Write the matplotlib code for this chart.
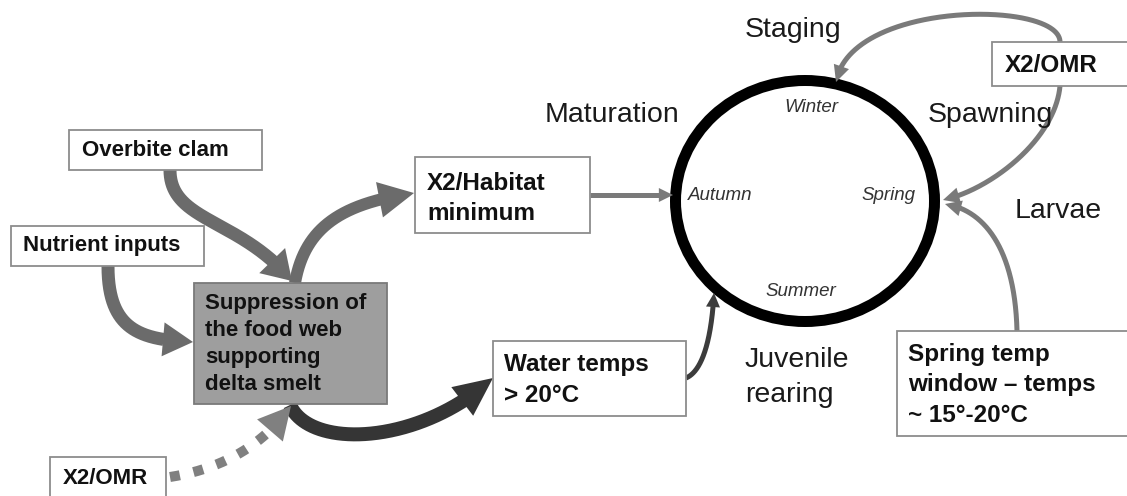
import numpy as np
from math import comb
import matplotlib
matplotlib.use("Agg")
import matplotlib.pyplot as plt
from matplotlib.patches import Rectangle, Ellipse, Polygon

W, H = 1127, 496

# ---- boxes ----
box_labels = [["Overbite clam"], ["Nutrient inputs"], ["X2/Habitat", "minimum"],
              ["Suppression of", "the food web", "supporting", "delta smelt"],
              ["Water temps", "> 20°C"], ["Spring temp", "window – temps", "~ 15°-20°C"],
              ["X2/OMR"], ["X2/OMR"]]
box_x0 = [69, 11, 415, 194, 493, 897, 992, 50]
box_y0 = [130, 226, 157, 283, 341, 331, 42, 457]
box_x1 = [262, 204, 590, 387, 686, 1130, 1130, 166]
box_y1 = [170, 266, 233, 404, 416, 436, 86, 500]
box_fill = ["white", "white", "white", "#9e9e9e", "white", "white", "white", "white"]
text_x = [82, 23, 427, 205, 504, 908, 1005, 63]
text_y = [150, 246, 183, 303, 364, 355, 65, 478]
line_gap = [0, 0, 30, 27, 32, 30, 0, 0]
font_size = [16, 16, 17.5, 16, 17.5, 17.5, 17.5, 16]

# ---- life-cycle stage labels ----
stage_labels = ["Staging", "Maturation", "Spawning", "Larvae", "Juvenile", "rearing"]
stage_x = [745, 545, 928, 1015, 745, 745]
stage_y = [30, 115, 115, 211, 360, 395]

# ---- seasons on the ring ----
season_labels = ["Winter", "Autumn", "Spring", "Summer"]
season_x = [811, 720, 888, 801]
season_y = [108, 195, 195, 291]

# ---- ring ----
ring_center = (805, 201)
ring_size = (259, 241)

# ---- arrows: bezier control points ending at the tip ----
arrow_pts = [
    [(170, 170), (170, 222), (240, 218), (292, 281)],     # overbite -> suppression
    [(108, 266), (108, 330), (140, 340), (193, 342)],     # nutrients -> suppression
    [(295, 283), (305, 225), (345, 203), (414, 193)],     # suppression -> X2/Habitat
    [(590, 195), (630, 195), (673, 195)],                 # X2/Habitat -> autumn
    [(290, 405), (310, 450), (420, 445), (493, 378)],     # suppression -> water temps
    [(170, 477), (215, 470), (260, 450), (291, 406)],     # X2/OMR (dotted) -> suppression
    [(686, 378), (705, 370), (712, 330), (714, 293)],     # water temps -> ring
    [(1060, 42), (1060, 0), (850, 0), (836, 82)],         # X2/OMR -> winter
    [(1060, 86), (1055, 140), (990, 190), (943, 200)],    # X2/OMR -> spring
    [(1017, 331), (1015, 250), (985, 210), (945, 204)],   # spring temp -> spring
]
arrow_color = ["#6b6b6b", "#6b6b6b", "#6b6b6b", "#7a7a7a", "#353535",
               "#808080", "#3c3c3c", "#7a7a7a", "#7a7a7a", "#7a7a7a"]
arrow_width = [13, 13, 12, 5, 14, 10, 5, 5, 5, 5]
head_len = [28, 30, 35, 14, 38, 32, 14, 16, 16, 16]
head_wid = [36, 34, 36, 14, 36, 34, 14, 16, 16, 16]
arrow_dotted = [False, False, False, False, False, True, False, False, False, False]

PX = 72.0 / 100.0  # pixel -> points


def bezier(pts, n=400):
    pts = np.asarray(pts, float)
    t = np.linspace(0, 1, n)[:, None]
    k = len(pts) - 1
    return sum(comb(k, i) * (1 - t) ** (k - i) * t ** i * pts[i] for i in range(k + 1))


def draw_arrow(ax, pts, color, width, hl, hw, dotted):
    curve = bezier(pts)
    tip = curve[-1]
    d = np.sqrt(((curve - tip) ** 2).sum(1))
    idx = np.where(d >= hl)[0][-1]
    base = curve[idx]
    shaft = curve[:min(idx + 3, len(curve))]
    u = (tip - base) / np.linalg.norm(tip - base)
    perp = np.array([-u[1], u[0]])
    head = [tip, base + perp * hw / 2, base - perp * hw / 2]
    if dotted:
        ax.plot(shaft[:idx - 2, 0], shaft[:idx - 2, 1], color=color, lw=width * PX,
                dashes=(1.0, 1.4), dash_capstyle="butt", zorder=2)
    else:
        ax.plot(shaft[:, 0], shaft[:, 1], color=color, lw=width * PX,
                solid_capstyle="butt", solid_joinstyle="round", zorder=2)
    ax.add_patch(Polygon(head, closed=True, facecolor=color, edgecolor="none", zorder=2))


fig = plt.figure(figsize=(W / 100, H / 100), dpi=100)
ax = fig.add_axes([0, 0, 1, 1])
ax.set_xlim(0, W)
ax.set_ylim(H, 0)
ax.axis("off")

ax.add_patch(Ellipse(ring_center, ring_size[0], ring_size[1], fill=False,
                     edgecolor="black", lw=11 * PX, zorder=1))

for pts, c, w, hl, hw, dt in zip(arrow_pts, arrow_color, arrow_width, head_len, head_wid, arrow_dotted):
    draw_arrow(ax, pts, c, w, hl, hw, dt)

for lab, x0, y0, x1, y1, fc, tx, ty, gap, fs in zip(box_labels, box_x0, box_y0, box_x1, box_y1,
                                                     box_fill, text_x, text_y, line_gap, font_size):
    ec = "#7a7a7a" if fc != "white" else "#8c8c8c"
    ax.add_patch(Rectangle((x0, y0), x1 - x0, y1 - y0, facecolor=fc, edgecolor=ec,
                           lw=1.3, zorder=3))
    for i, line in enumerate(lab):
        ax.text(tx, ty + i * gap, line, fontsize=fs, fontweight="bold", ha="left",
                va="center", family="Liberation Sans", color="#111111", zorder=4)

for lab, x, y in zip(stage_labels, stage_x, stage_y):
    ax.text(x, y, lab, fontsize=20.5, ha="left", va="center", family="Liberation Sans",
            color="#1a1a1a", zorder=4)

for lab, x, y in zip(season_labels, season_x, season_y):
    ax.text(x, y, lab, fontsize=13.5, ha="center", va="center", family="Liberation Sans",
            style="italic", color="#333333", zorder=4)

fig.savefig("out.png", dpi=100)
